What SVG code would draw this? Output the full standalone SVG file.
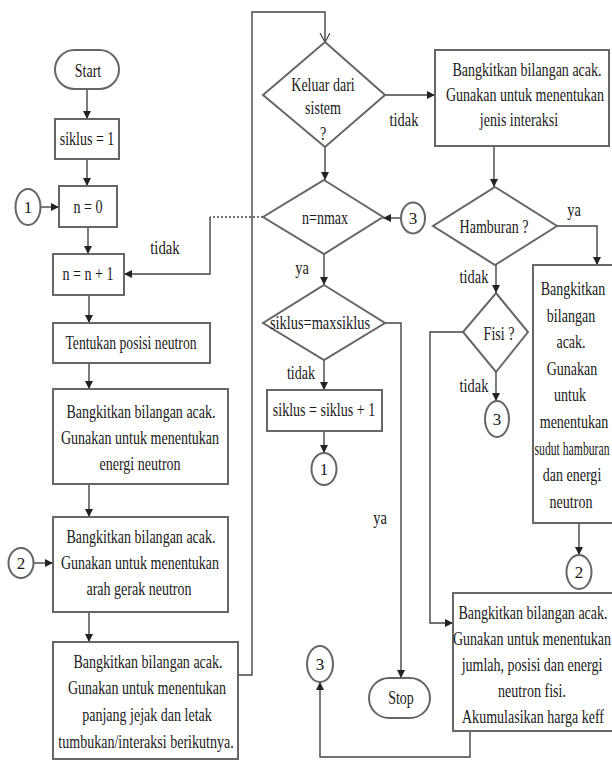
<svg xmlns="http://www.w3.org/2000/svg" width="612" height="760" viewBox="0 0 612 760">
<defs>
<style>
.b{fill:#fff;stroke:#666;stroke-width:2}
.c{fill:none;stroke:#444;stroke-width:1.4}
.d{fill:none;stroke:#444;stroke-width:1.4;stroke-dasharray:2 2}
text{font-family:"Liberation Serif","Tinos","DejaVu Serif","Noto Serif",serif;font-size:18px;fill:#1a1a1a;text-anchor:middle}
.n{font-size:17px}
</style>
<marker id="a" markerUnits="userSpaceOnUse" markerWidth="9" markerHeight="8" refX="8" refY="4" orient="auto"><path d="M0,0 L8,4 L0,8 z" fill="#222"/></marker>
<marker id="v" markerUnits="userSpaceOnUse" markerWidth="10" markerHeight="12" refX="9" refY="5" orient="auto"><path d="M0,0 L9,5 L0,10" fill="none" stroke="#444" stroke-width="1.2"/></marker>
</defs>
<rect width="612" height="760" fill="#fff"/>
<g id="connectors">
<path class="c" d="M87,89 V119" marker-end="url(#a)"/>
<path class="c" d="M87,159 V186" marker-end="url(#a)"/>
<path class="c" d="M40,207 H59" marker-end="url(#a)"/>
<path class="c" d="M88,227 V254" marker-end="url(#a)"/>
<path class="d" d="M263,217 H210"/>
<path class="c" d="M210,217 V274 H124" marker-end="url(#a)"/>
<path class="c" d="M89,295 V323" marker-end="url(#a)"/>
<path class="c" d="M89,363 V389" marker-end="url(#a)"/>
<path class="c" d="M89,484 V517" marker-end="url(#a)"/>
<path class="c" d="M33,563 H53" marker-end="url(#a)"/>
<path class="c" d="M89,612 V642" marker-end="url(#a)"/>
<path class="c" d="M238,675 H252 V12 H325 V42" marker-end="url(#v)"/>
<path class="c" d="M325,147 V180" marker-end="url(#a)"/>
<path class="c" d="M385,95 H435" marker-end="url(#a)"/>
<path class="c" d="M494,146 V187" marker-end="url(#a)"/>
<path class="c" d="M557,226 H597 V265" marker-end="url(#a)"/>
<path class="c" d="M496,265 V293" marker-end="url(#a)"/>
<path class="c" d="M496,372 V401" marker-end="url(#a)"/>
<path class="c" d="M463,332 H430 V623 H453" marker-end="url(#a)"/>
<path class="c" d="M579,523 V555" marker-end="url(#a)"/>
<path class="c" d="M401,218 H383" marker-end="url(#a)"/>
<path class="c" d="M324,254 V285" marker-end="url(#a)"/>
<path class="c" d="M385,323 H401 V678" marker-end="url(#a)"/>
<path class="c" d="M324,360 V390" marker-end="url(#a)"/>
<path class="c" d="M324,431 V453" marker-end="url(#a)"/>
<path class="c" d="M470,731 V757 H320 V682" marker-end="url(#a)"/>
</g>
<g id="labels">
<text transform="translate(165,254) scale(0.82,1)">tidak</text>
<text transform="translate(404,126) scale(0.8,1)">tidak</text>
<text transform="translate(302,274) scale(0.8,1)">ya</text>
<text transform="translate(301,379) scale(0.78,1)">tidak</text>
<text transform="translate(380,524) scale(0.8,1)">ya</text>
<text transform="translate(574,216) scale(0.8,1)">ya</text>
<text transform="translate(474,283) scale(0.8,1)">tidak</text>
<text transform="translate(474,392) scale(0.8,1)">tidak</text>
</g>
<g id="start"><rect class="b" x="55" y="50" width="64" height="39" rx="19.5"/><text transform="translate(88,77) scale(0.78,1)">Start</text></g>
<g id="siklus1"><rect class="b" x="55" y="119" width="64" height="40"/><text transform="translate(87,145) scale(0.78,1)">siklus = 1</text></g>
<g id="c1a"><ellipse class="b" cx="28" cy="207" rx="12.5" ry="18"/><text class="n" x="28" y="213">1</text></g>
<g id="n0"><rect class="b" x="59" y="186" width="58" height="41"/><text transform="translate(88,213) scale(0.78,1)">n = 0</text></g>
<g id="nn1"><rect class="b" x="53" y="254" width="71" height="41"/><text transform="translate(88,280) scale(0.78,1)">n = n + 1</text></g>
<g id="tentukan"><rect class="b" x="53" y="323" width="157" height="40"/><text transform="translate(131,349) scale(0.76,1)">Tentukan posisi neutron</text></g>
<g id="energi"><rect class="b" x="53" y="389" width="175" height="95"/>
<text transform="translate(141,418) scale(0.78,1)">Bangkitkan bilangan acak.</text>
<text transform="translate(140,444) scale(0.78,1)">Gunakan untuk menentukan</text>
<text transform="translate(140,470) scale(0.78,1)">energi neutron</text></g>
<g id="c2a"><ellipse class="b" cx="21" cy="563" rx="12.5" ry="15"/><text class="n" x="21" y="569">2</text></g>
<g id="arah"><rect class="b" x="53" y="517" width="175" height="95"/>
<text transform="translate(141,543) scale(0.78,1)">Bangkitkan bilangan acak.</text>
<text transform="translate(140,569) scale(0.78,1)">Gunakan untuk menentukan</text>
<text transform="translate(139,595) scale(0.78,1)">arah gerak neutron</text></g>
<g id="jejak"><rect class="b" x="53" y="642" width="185" height="117"/>
<text transform="translate(148,668) scale(0.78,1)">Bangkitkan bilangan acak.</text>
<text transform="translate(147,694) scale(0.78,1)">Gunakan untuk menentukan</text>
<text transform="translate(147,721) scale(0.78,1)">panjang jejak dan letak</text>
<text transform="translate(146,748) scale(0.78,1)">tumbukan/interaksi berikutnya.</text></g>
<g id="keluar"><polygon class="b" points="325,42 385,95 325,147 263,95"/>
<text transform="translate(323,91) scale(0.78,1)">Keluar dari</text>
<text transform="translate(323,114) scale(0.78,1)">sistem</text>
<text transform="translate(323,140) scale(0.78,1)">?</text></g>
<g id="nmax"><polygon class="b" points="324,180 383,217 324,254 263,217"/><text transform="translate(325,224) scale(0.78,1)">n=nmax</text></g>
<g id="c3a"><ellipse class="b" cx="413" cy="218" rx="12" ry="15.5"/><text class="n" x="413" y="224">3</text></g>
<g id="siklusmax"><polygon class="b" points="324,285 385,323 324,360 263,323"/><text transform="translate(320,329) scale(0.8,1)">siklus=maxsiklus</text></g>
<g id="siklusplus"><rect class="b" x="267" y="390" width="115" height="41"/><text transform="translate(324,416) scale(0.78,1)">siklus = siklus + 1</text></g>
<g id="c1b"><ellipse class="b" cx="324" cy="469" rx="12.5" ry="16"/><text class="n" x="324" y="475">1</text></g>
<g id="c3b"><ellipse class="b" cx="320" cy="664" rx="13" ry="18"/><text class="n" x="320" y="670">3</text></g>
<g id="stop"><rect class="b" x="369" y="678" width="61" height="40" rx="20"/><text transform="translate(401,704) scale(0.78,1)">Stop</text></g>
<g id="jenis"><rect class="b" x="435" y="50" width="174" height="96"/>
<text transform="translate(527,76) scale(0.78,1)">Bangkitkan bilangan acak.</text>
<text transform="translate(525,101) scale(0.78,1)">Gunakan untuk menentukan</text>
<text transform="translate(519,126) scale(0.78,1)">jenis interaksi</text></g>
<g id="hamburan"><polygon class="b" points="495,187 557,226 495,265 433,226"/><text transform="translate(494,233) scale(0.78,1)">Hamburan ?</text></g>
<g id="fisi"><polygon class="b" points="496,293 528,332 496,372 463,332"/><text transform="translate(499,340) scale(0.78,1)">Fisi ?</text></g>
<g id="c3c"><ellipse class="b" cx="497" cy="419" rx="12" ry="18"/><text class="n" x="497" y="425">3</text></g>
<g id="hambur"><rect class="b" x="533" y="265" width="82" height="258"/>
<text transform="translate(573,295) scale(0.78,1)">Bangkitkan</text>
<text transform="translate(571,322) scale(0.78,1)">bilangan</text>
<text transform="translate(571,348) scale(0.78,1)">acak.</text>
<text transform="translate(572,375) scale(0.78,1)">Gunakan</text>
<text transform="translate(570,401) scale(0.78,1)">untuk</text>
<text transform="translate(574,428) scale(0.78,1)">menentukan</text>
<text transform="translate(572,455) scale(0.65,1)">sudut hamburan</text>
<text transform="translate(572,481) scale(0.78,1)">dan energi</text>
<text transform="translate(571,508) scale(0.78,1)">neutron</text></g>
<g id="c2b"><ellipse class="b" cx="579" cy="572" rx="12.5" ry="17"/><text class="n" x="579" y="578">2</text></g>
<g id="fission"><rect class="b" x="453" y="593" width="162" height="138"/>
<text transform="translate(533,619) scale(0.78,1)">Bangkitkan bilangan acak.</text>
<text transform="translate(532,645) scale(0.78,1)">Gunakan untuk menentukan</text>
<text transform="translate(532,671) scale(0.78,1)">jumlah, posisi dan energi</text>
<text transform="translate(532,697) scale(0.78,1)">neutron fisi.</text>
<text transform="translate(533,723) scale(0.78,1)">Akumulasikan harga keff</text></g>
</svg>
